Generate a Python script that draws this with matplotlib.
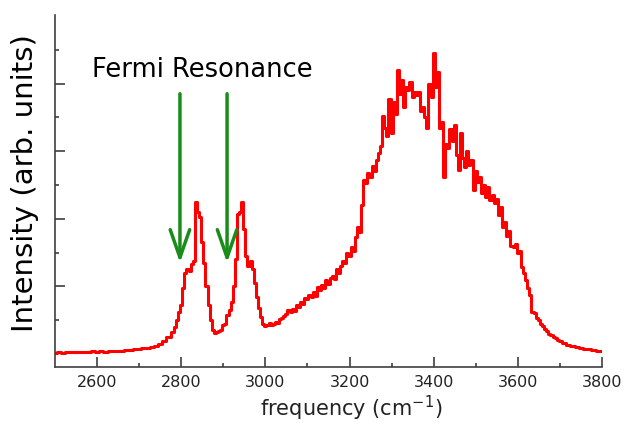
import numpy as np
import matplotlib
matplotlib.use("Agg")
import matplotlib.pyplot as plt

# Raman spectrum: 10 cm-1 steps on the flat wings,
# 5 cm-1 steps across the bands
freq_low = np.arange(2500, 2780, 10)
int_low = [
    0.3, 0.6, 0.4, 0.7, 0.5, 0.7, 0.6, 0.7, 0.6, 0.8,      # 2500-2590
    0.7, 0.8, 0.7, 0.9, 0.8, 1.0, 1.0, 1.1, 1.3, 1.4,      # 2600-2690
    1.6, 1.7, 1.9, 2.2, 2.5, 3.1, 3.8, 5.0,                # 2700-2770
]

freq_mid = np.arange(2780, 3700, 5)
int_mid = [
    6.5, 8.0, 10.0, 12.5, 14.5, 19.5, 24.0, 25.0, 24.5, 26.5,   # 2780-2825
    27.5, 45.0, 42.0, 40.5, 33.0, 27.0, 20.0, 14.5, 10.0, 7.0,  # 2830-2875
    6.2, 6.5, 6.8, 7.0, 8.5, 9.0, 11.5, 13.0, 15.5, 20.0,       # 2880-2925
    28.0, 41.5, 42.0, 45.0, 37.0, 29.0, 26.0, 27.5, 25.0, 21.0, # 2930-2975
    17.0, 13.5, 11.0, 9.0, 8.3, 8.6, 9.2, 8.7, 9.0, 9.6,        # 2980-3025
    9.3, 10.3, 10.6, 11.2, 11.8, 13.0, 12.3, 13.2, 12.7, 14.5,  # 3030-3075
    14.0, 15.3, 14.8, 16.5, 16.3, 17.6, 16.9, 18.4, 17.2, 19.8, # 3080-3125
    18.8, 20.4, 19.6, 22.0, 20.8, 22.4, 23.0, 22.3, 25.2, 24.0, # 3130-3175
    26.0, 27.5, 26.8, 30.0, 29.0, 31.8, 30.5, 34.5, 37.5, 36.0, # 3180-3225
    44.0, 51.5, 50.5, 53.5, 52.5, 55.5, 54.0, 57.5, 59.5, 61.5, # 3230-3275
    70.5, 67.0, 64.5, 75.5, 65.5, 74.5, 71.0, 84.0, 77.0, 81.0, # 3280-3325
    73.0, 79.0, 78.0, 80.5, 76.0, 77.5, 76.5, 77.5, 72.0, 73.0, # 3330-3375
    70.0, 67.0, 80.0, 76.0, 89.0, 79.0, 83.5, 67.0, 68.5, 52.5, # 3380-3425
    62.0, 61.0, 66.5, 63.0, 67.8, 59.0, 54.5, 65.5, 58.0, 55.3, # 3430-3475
    60.0, 56.0, 57.4, 48.5, 54.0, 51.0, 52.4, 47.5, 50.0, 46.5, # 3480-3525
    49.4, 45.6, 47.0, 44.7, 46.0, 41.0, 43.5, 37.5, 39.0, 35.0, # 3530-3575
    36.5, 32.0, 31.7, 32.5, 29.9, 30.5, 25.7, 24.0, 22.0, 19.5, # 3580-3625
    17.5, 12.5, 12.0, 10.5, 10.0, 9.0, 8.2, 7.3, 6.8, 6.0,      # 3630-3675
    5.5, 5.0, 4.6, 4.2,                                         # 3680-3695
]

freq_high = np.arange(3700, 3801, 10)
int_high = [3.9, 3.3, 2.8, 2.5, 2.1, 1.9, 1.6, 1.4, 1.2, 1.0, 0.8]  # 3700-3800

freq = np.concatenate([freq_low, freq_mid, freq_high])
intensity = np.concatenate([int_low, int_mid, int_high])

arrow_x = [2797, 2909]
arrow_top = 77
arrow_tip = 27

fig = plt.figure(figsize=(6.24, 4.23), dpi=100)
ax = fig.add_axes([0.0881, 0.1324, 0.8766, 0.8321])

ax.plot(freq, intensity, color="#ff0000", lw=2.2, drawstyle="steps-mid")

for x in arrow_x:
    ax.annotate("", xy=(x, arrow_tip), xytext=(x, arrow_top),
                arrowprops=dict(arrowstyle="->,head_length=1.0,head_width=0.35",
                                color="#1a8c1a", lw=2.5, mutation_scale=20,
                                shrinkA=0, shrinkB=0))

ax.text(2588, 82, "Fermi Resonance", fontsize=18.5, color="black", va="baseline")

ax.set_xlim(2500, 3800)
ax.set_ylim(-3.85, 100.3)
ax.set_xticks(np.arange(2600, 3801, 200))
ax.set_xticks(np.arange(2700, 3701, 200), minor=True)
ax.set_yticks([20, 40, 60, 80])
ax.set_yticks([10, 30, 50, 70, 90], minor=True)
ax.set_yticklabels([])

for s in ["top", "right"]:
    ax.spines[s].set_visible(False)
for s in ["left", "bottom"]:
    ax.spines[s].set_color("#404040")
    ax.spines[s].set_linewidth(1.2)

ax.tick_params(which="major", direction="in", length=7, width=1.2, color="#404040",
               labelsize=11.5, labelcolor="#222222", pad=6)
ax.tick_params(which="minor", direction="in", length=3, width=1.2, color="#404040")

fig.text(351 / 624, 1 - 416 / 423, "frequency (cm$^{-1}$)", fontsize=15,
         color="#222222", ha="center", va="baseline")
fig.text(25 / 624, 1 - 183 / 423, "Intensity (arb. units)", fontsize=21,
         color="black", rotation=90, ha="center", va="center")

fig.savefig("out.png", dpi=100)
